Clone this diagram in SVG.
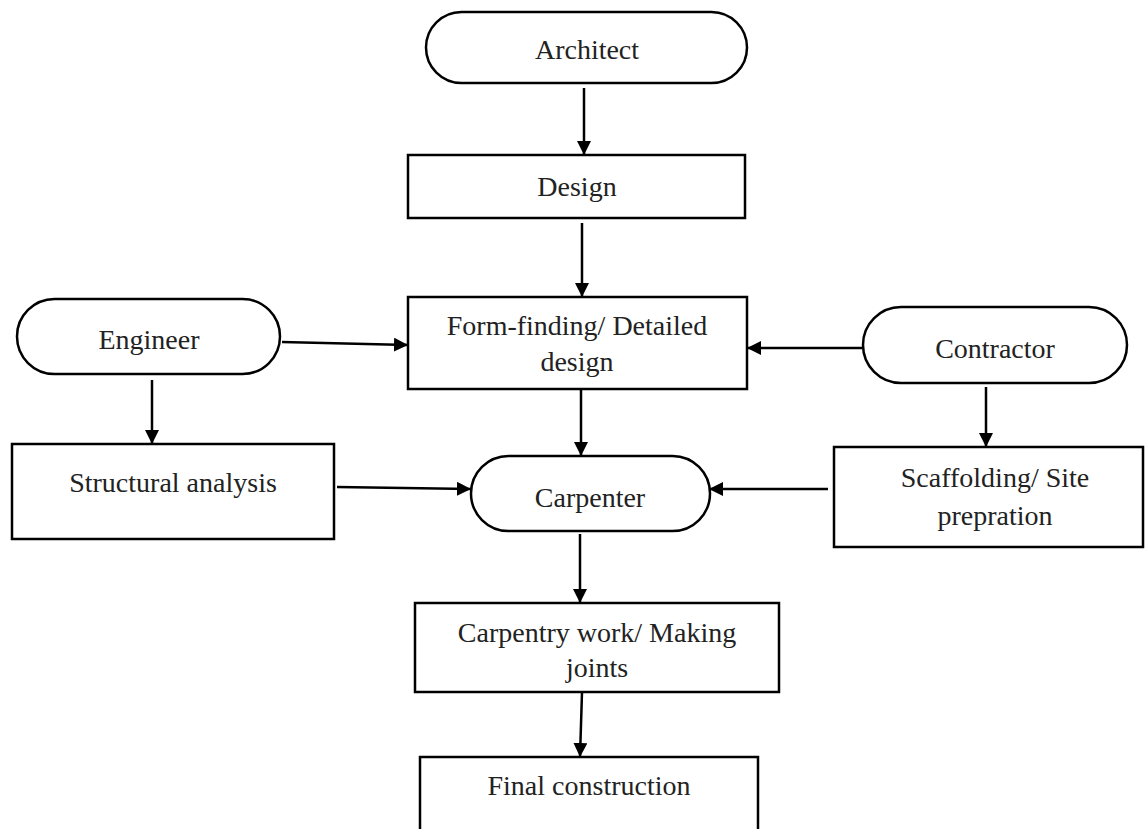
<svg xmlns="http://www.w3.org/2000/svg" width="1146" height="829" viewBox="0 0 1146 829">
<style>
.box{fill:#fff;stroke:#000;stroke-width:2.5}
.lbl{font-family:"Liberation Serif","Times New Roman",serif;font-size:28px;fill:#222;text-anchor:middle}
.conn{stroke:#000;stroke-width:2.5;fill:none;marker-end:url(#ah)}
</style>
<defs>
<marker id="ah" viewBox="0 0 14 14" refX="14" refY="7" markerWidth="14" markerHeight="14" markerUnits="userSpaceOnUse" orient="auto">
<path d="M0,0 L14,7 L0,14 Z" fill="#000"/>
</marker>
</defs>
<rect width="1146" height="829" fill="#fff"/>
<g id="architect"><rect class="box" x="426" y="12" width="321" height="71" rx="35.5"/><text class="lbl" x="587" y="59">Architect</text></g>
<g id="design"><rect class="box" x="408" y="155" width="337" height="63"/><text class="lbl" x="577" y="196">Design</text></g>
<g id="formfinding"><rect class="box" x="408" y="297" width="339" height="92"/><text class="lbl" x="577" y="335">Form-finding/ Detailed</text><text class="lbl" x="577" y="371">design</text></g>
<g id="engineer"><rect class="box" x="17" y="299" width="263" height="75" rx="37.5"/><text class="lbl" x="149" y="349">Engineer</text></g>
<g id="contractor"><rect class="box" x="863" y="307" width="264" height="76" rx="38"/><text class="lbl" x="995" y="358">Contractor</text></g>
<g id="structural"><rect class="box" x="12" y="444" width="322" height="95"/><text class="lbl" x="173" y="492">Structural analysis</text></g>
<g id="carpenter"><rect class="box" x="471" y="456" width="239" height="75" rx="37.5"/><text class="lbl" x="590" y="507">Carpenter</text></g>
<g id="scaffolding"><rect class="box" x="834" y="447" width="309" height="100"/><text class="lbl" x="995" y="487">Scaffolding/ Site</text><text class="lbl" x="995" y="525">prepration</text></g>
<g id="carpentry"><rect class="box" x="415" y="603" width="364" height="89"/><text class="lbl" x="597" y="642">Carpentry work/ Making</text><text class="lbl" x="597" y="677">joints</text></g>
<g id="final"><rect class="box" x="420" y="757" width="338" height="90"/><text class="lbl" x="589" y="795">Final construction</text></g>
<g id="connectors">
<line class="conn" x1="584" y1="88" x2="584" y2="155"/>
<line class="conn" x1="582" y1="223" x2="582" y2="297"/>
<line class="conn" x1="282" y1="342" x2="408" y2="345"/>
<line class="conn" x1="863" y1="348" x2="747" y2="348"/>
<line class="conn" x1="581" y1="389" x2="581" y2="456"/>
<line class="conn" x1="152" y1="380" x2="152" y2="444"/>
<line class="conn" x1="986" y1="387" x2="986" y2="447"/>
<line class="conn" x1="337" y1="487" x2="471" y2="489"/>
<line class="conn" x1="828" y1="489" x2="709" y2="489"/>
<line class="conn" x1="580" y1="534" x2="580" y2="603"/>
<line class="conn" x1="582" y1="692" x2="580" y2="757"/>
</g>
</svg>
